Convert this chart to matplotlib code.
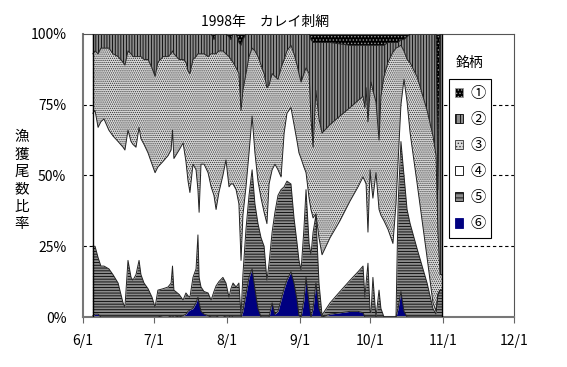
import numpy as np
import matplotlib
matplotlib.use("Agg")
import matplotlib.pyplot as plt
from matplotlib.patches import Patch

plt.rcParams['font.family'] = ['Noto Sans CJK JP', 'DejaVu Sans']
plt.rcParams['hatch.linewidth'] = 0.6

# 6/1からの日数
day = [4.2, 5.1, 6.4, 7.6, 8.9, 11.0, 12.7, 14.9, 17.0, 17.8,
       19.1, 20.4, 21.2, 22.5, 23.8, 24.6, 25.9, 27.6, 29.3, 30.6,
       31.8, 34.0, 36.1, 37.4, 38.0, 38.6, 40.8, 42.5, 43.7, 44.6,
       45.4, 46.7, 48.0, 48.8, 49.3, 50.1, 51.4, 53.1, 54.4, 55.6,
       56.5, 57.7, 59.4, 60.7, 62.0, 62.8, 63.7, 65.0, 66.2, 67.1,
       67.9, 69.2, 70.5, 71.8, 73.0, 74.3, 75.6, 76.9, 78.1, 79.0,
       80.3, 81.5, 82.8, 84.1, 85.4, 86.6, 88.3, 89.6, 90.9, 91.7,
       92.6, 93.8, 94.7, 96.0, 96.8, 97.7, 98.9, 100.2, 101.5, 104.9,
       109.1, 113.4, 116.8, 118.9, 119.7, 120.2, 121.0, 121.9, 122.3, 123.1,
       124.4, 125.7, 126.5, 127.8, 129.5, 131.6, 132.9, 133.8, 135.0, 136.3,
       137.6, 138.9, 141.9, 146.1, 148.6, 149.9, 150.7, 151.6, 152.4]

# 各銘柄の累積比率(%)  下から⑥⑤④③②、残りが①
top6 = [0.5, 1, 1, 0, 0, 0, 0, 0, 0, 0,
        0, 0, 0, 0, 0, 0, 0, 0, 0, 0,
        0, 0.5, 0.5, 0, 0, 0.5, 0, 0.5, 1, 2,
        2.5, 3, 5, 7, 5, 2, 1, 0.5, 0, 0,
        0, 0.5, 0.5, 0, 0, 0.5, 0, 0, 0, 0,
        2, 8, 14, 17, 10, 3, 0, 0, 0, 0,
        5, 1, 2, 6, 10, 13, 16, 12, 6, 0.5,
        0, 6, 14, 5, 0, 3, 12, 3, 0, 1,
        1.5, 2, 2, 1.5, 0, 0, 0, 0, 0, 0,
        0, 0, 0, 0, 0, 0, 0, 3, 9, 2,
        0, 0, 0, 0, 0, 0, 0, 0, 0]
top5 = [25, 25, 21, 18, 18, 17, 15, 12, 5, 3.5,
        20, 14, 13, 15, 20, 15, 12, 10, 7, 3.5,
        9.5, 10, 10.6, 12, 18, 9.5, 8, 6, 8.5, 7.5,
        7, 14, 17, 29, 14, 10.6, 9, 8.5, 6, 9,
        11, 12.5, 14, 12, 7, 10, 12, 10.6, 12, 0.7,
        15, 31, 43, 52, 40, 33, 28, 25, 13, 19,
        30, 37, 43, 45, 46, 48, 47, 35, 26, 20,
        16.6, 31, 45, 26, 22, 30, 36, 12, 0.7, 5,
        9, 13, 16, 18, 7, 12, 19, 2, 1.5, 14,
        0, 9.5, 3, 0, 0, 0, 0, 40, 62, 50,
        38, 33, 24, 12, 3, 1, 8, 9.5, 9.5]
top4 = [72, 73, 67, 69, 70, 66, 64, 62, 60, 59,
        66, 62, 61, 60, 67, 63, 61, 58, 54, 51,
        53, 55, 57, 59, 66, 56, 59, 61.5, 55, 48,
        44, 54, 52, 45, 37, 54, 54, 51, 46, 43,
        38, 44, 50, 55.5, 46, 47, 47, 45, 40, 20,
        36, 46, 58, 71, 58, 48, 42, 37, 33, 47,
        52, 54, 52, 49.5, 65, 72, 74, 68, 62, 58,
        56, 53, 51, 42, 38, 35, 36.5, 28, 22, 28,
        34, 41, 46, 49.5, 48, 47, 30, 52, 48, 42,
        51, 38, 36, 34, 31, 26, 40, 55, 75, 84,
        76, 65, 47, 21, 5, 2, 8, 9.5, 9.5]
top3 = [93, 94, 93, 95, 95, 95, 93, 92, 90, 89,
        94, 93, 92, 92, 92, 92, 91, 91, 88, 85,
        90, 92, 92, 93, 94, 93, 91, 91, 90, 87,
        86, 91, 92, 93, 93, 93, 93, 92, 93, 93,
        93, 94, 94, 93, 92, 91, 90, 88, 86, 73,
        80, 86, 92, 95, 94, 92, 89, 86, 81, 82,
        86, 85, 84, 88, 91, 94, 96, 93, 89, 86,
        83, 86, 88, 86, 70, 60, 80, 70, 65, 68,
        71, 74, 76.5, 78, 74, 81, 69, 80, 83, 80,
        76, 62.5, 78, 85, 90, 93.6, 95, 95.4, 96, 94,
        91, 89.8, 84.8, 73, 64, 57, 30, 15, 15]
top2 = [100, 100, 100, 100, 100, 100, 100, 100, 100, 100,
        100, 100, 100, 100, 100, 100, 100, 100, 100, 100,
        100, 100, 100, 100, 100, 100, 100, 100, 100, 100,
        100, 100, 100, 100, 100, 100, 100, 100, 100, 98,
        100, 100, 100, 100, 99, 98, 100, 100, 97, 96,
        98, 100, 100, 100, 100, 100, 100, 100, 100, 100,
        100, 100, 100, 100, 100, 100, 100, 100, 100, 100,
        100, 100, 100, 100, 98, 97, 97, 97, 97, 97,
        96.5, 96, 96, 96, 96, 96, 96, 96, 96, 96,
        96, 96, 96, 96, 97, 97, 97, 97, 98, 98,
        99, 100, 100, 100, 100, 100, 45, 100, 100]

labels = ['①', '②', '③', '④', '⑤', '⑥']
month_ticks = [0, 30, 61, 92, 122, 153, 183]
month_labels = ['6/1', '7/1', '8/1', '9/1', '10/1', '11/1', '12/1']

x = np.array(day)
zero = np.zeros(len(x))
full = np.full(len(x), 100.0)
bounds = [zero, np.array(top6), np.array(top5), np.array(top4),
          np.array(top3), np.array(top2), full]

# ⑥ ⑤ ④ ③ ② ① の順 (face, hatch color, hatch)
styles = [('#000080', '#000080', None),
          ('#8c8c8c', 'black', '------'),
          ('white', 'white', None),
          ('#dadada', '#333333', '........'),
          ('#8c8c8c', 'black', '||||||'),
          ('black', '#999999', '.....')]

fig = plt.figure(figsize=(5.67, 3.67), dpi=100)
ax = fig.add_axes([0.1464, 0.1362, 0.7601, 0.7712])

for yv in [25, 50, 75]:
    ax.axhline(yv, color='black', lw=0.8, ls=(0, (3, 2.5)), zorder=0)

for i, (fc, hc, h) in enumerate(styles):
    ax.fill_between(x, bounds[i], bounds[i + 1], facecolor=fc,
                    edgecolor=hc, hatch=h, linewidth=0, zorder=2)
for b in bounds[1:6]:
    ax.plot(x, b, color='#222222', lw=0.7, zorder=3)
ax.vlines([x[0], x[-1]], 0, 100, color='black', lw=1.0, zorder=3)

ax.set_xlim(0, 183)
ax.set_ylim(0, 100)
ax.set_xticks(month_ticks)
ax.set_xticklabels(month_labels, fontsize=10)
ax.set_yticks([0, 25, 50, 75, 100])
ax.set_yticklabels(['0%', '25%', '50%', '75%', '100%'], fontsize=10)
ax.tick_params(axis='x', direction='out', length=4, color='#666666', pad=8)
ax.tick_params(axis='y', length=0, pad=12)
for s in ['left', 'bottom']:
    ax.spines[s].set_color('#777777')
    ax.spines[s].set_linewidth(1.5)
for s in ['top', 'right']:
    ax.spines[s].set_color('#555555')
    ax.spines[s].set_linewidth(0.8)

fig.text(0.468, 0.94, '1998年　カレイ刺網', ha='center', va='center', fontsize=10)
fig.text(0.039, 0.508, '\n'.join('漁獲尾数比率'), ha='center', va='center',
         fontsize=10.5, linespacing=1.3)

handles = [Patch(facecolor='black', edgecolor='#999999', hatch='.....', lw=0.6),
           Patch(facecolor='#8c8c8c', edgecolor='black', hatch='||||', lw=0.6),
           Patch(facecolor='#dadada', edgecolor='#333333', hatch='.....', lw=0.6),
           Patch(facecolor='white', edgecolor='black', lw=0.6),
           Patch(facecolor='#8c8c8c', edgecolor='black', hatch='----', lw=0.6),
           Patch(facecolor='#000080', edgecolor='#000080', lw=0.6)]
leg = fig.legend(handles, labels, loc='upper left', bbox_to_anchor=(0.779, 0.805),
                 fontsize=11, handlelength=0.55, handleheight=0.55,
                 handletextpad=0.5, labelspacing=0.6, borderpad=0.35,
                 fancybox=False, framealpha=1, edgecolor='black')
leg.get_frame().set_linewidth(0.8)
fig.text(0.829, 0.828, '銘柄', ha='center', va='center', fontsize=10)

fig.savefig('out.png', dpi=100)
